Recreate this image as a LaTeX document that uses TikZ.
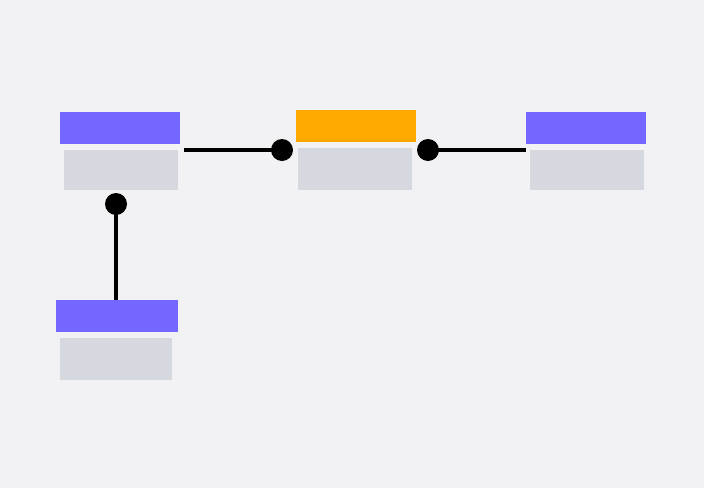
\documentclass[tikz,border=0pt]{standalone}
\usepackage{tikz}
\usepackage{xcolor}
\definecolor{bgcol}{HTML}{F2F2F4}
\definecolor{headblue}{HTML}{7367FF}
\definecolor{headorange}{HTML}{FFA800}
\definecolor{bodygrey}{HTML}{D5D8DF}

\begin{document}
\begin{tikzpicture}
[
x=1pt,y=-1pt,
ehead/.style 2 args={fill=#1,inner sep=0pt,minimum width=#2,minimum height=32pt,anchor=north west},
ebody/.style 2 args={fill=bodygrey,inner sep=0pt,minimum width=#1,minimum height=#2,anchor=north west},
joint/.style={fill=black,circle,inner sep=0pt,minimum size=22pt},
link/.style={line width=3.3pt},
]
\fill[bgcol] (0,0) rectangle (704,488);

%Place the nodes
\node[ehead={headblue}{120pt}] (ha) at (60,112) {};
\node[ebody={114pt}{40pt}] (ba) at (64,150) {};
\node[ehead={headorange}{120pt}] (hb) at (296,110) {};
\node[ebody={114pt}{42pt}] (bb) at (298,148) {};
\node[ehead={headblue}{120pt}] (hc) at (526,112) {};
\node[ebody={114pt}{40pt}] (bc) at (530,150) {};
\node[ehead={headblue}{122pt}] (hd) at (56,300) {};
\node[ebody={112pt}{42pt}] (bd) at (60,338) {};
\node[joint] (jb) at (282,150) {};
\node[joint] (jc) at (428,150) {};
\node[joint] (ja) at (116,204) {};
\coordinate (sa) at (184,150);
\coordinate (sd) at (116,300);
%Draw the connections
\draw[link] (sa) -- (jb.center);
\draw[link] (jc.center) -- (hc.west |- jc);
\draw[link] (ja.center) -- (sd);
\end{tikzpicture}
\end{document}
